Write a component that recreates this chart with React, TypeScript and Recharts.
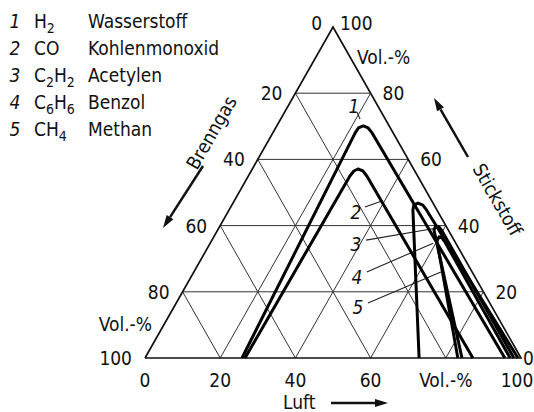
import React from 'react';
import { ScatterChart, Scatter, XAxis, YAxis } from 'recharts';

const FONT = "'Liberation Sans Narrow', 'DejaVu Sans Condensed', 'Arial Narrow', 'Roboto', sans-serif";

// ternary axes, all in Vol.-%: Luft (bottom), Stickstoff (right), Brenngas = 100 - Luft - Stickstoff
const gridSteps = [20, 40, 60, 80];
const scaleTicks = [0, 20, 40, 60, 80, 100];
const luftLabels = ['0', '20', '40', '60', 'Vol.-%', '100'];
const brenngasLabels = ['0', '20', '40', '60', '80', '100'];
const stickstoffLabels = ['0', '20', '40', '60', '80', '100'];

// explosion ranges: Luft / Stickstoff along each curve
const h2Luft = [25.8, 21.9, 22.0, 23.0, 24.6, 26.4, 95.7];
const h2N2 = [0, 68.0, 69.5, 70.1, 69.5, 68.0, 0];
const coLuft = [26.6, 27.0, 27.3, 28.1, 29.7, 31.5, 87.2];
const coN2 = [0, 55.0, 56.5, 57.1, 56.5, 55.0, 0];
const c2h2Luft = [72.9, 48.9, 48.4, 49.2, 50.8, 52.2, 99.2];
const c2h2N2 = [0, 44.7, 46.2, 46.8, 46.2, 45.0, 0];
const c6h6Luft = [84.3, 57.5, 57.4, 58.4, 59.8, 98.1];
const c6h6N2 = [0, 38.7, 39.9, 39.6, 38.4, 0];
const ch4Luft = [83.2, 60.0, 59.9, 60.8, 62.3, 97.1];
const ch4N2 = [0, 35.3, 36.6, 36.3, 35.0, 0];

// leader lines from the curve numbers: [start, end] as Luft / Stickstoff
const leaderLuft = [[19.2, 21.1], [35.7, 39.3], [41.0, 58.0], [46.0, 59.3], [51.0, 65.7]];
const leaderN2 = [[74.3, 72.2], [45.6, 47.4], [35.6, 39.3], [26.0, 34.7], [16.6, 26.0]];

const legendNums = ['1', '2', '3', '4', '5'];
const legendFormulas = [['H', '2'], ['CO'], ['C', '2', 'H', '2'], ['C', '6', 'H', '6'], ['CH', '4']];
const legendNames = ['Wasserstoff', 'Kohlenmonoxid', 'Acetylen', 'Benzol', 'Methan'];

const toXY = (luft: number, n2: number) => ({ x: luft + n2 / 2, y: n2 });
const path = (l: number[], n: number[]) => l.map((v, i) => toXY(v, n[i]));

const NoDot = () => <g />;

// tick text, kept inside the 534px page
const tickShape = (anchor: string, dx: number, dy: number, maxX = 9999) => (props: any) => {
    const { cx, cy, payload } = props;
    return (
        <text x={Math.min(cx + dx, maxX)} y={cy + dy} textAnchor={anchor} fontFamily={FONT} fontSize={19} fill="#111">
            {payload.label}
        </text>
    );
};

const Arrow = ({ x1, y1, x2, y2 }: { x1: number; y1: number; x2: number; y2: number }) => {
    const len = Math.hypot(x2 - x1, y2 - y1);
    const ux = (x2 - x1) / len;
    const uy = (y2 - y1) / len;
    const bx = x2 - ux * 13;
    const by = y2 - uy * 13;
    const head = `${x2},${y2} ${bx - uy * 4},${by + ux * 4} ${bx + uy * 4},${by - ux * 4}`;
    return (
        <g>
            <line x1={x1} y1={y1} x2={bx} y2={by} stroke="#111" strokeWidth={2.5} />
            <polygon points={head} fill="#111" />
        </g>
    );
};

export default function App() {
    const gridLines: { x: number; y: number }[][] = [];
    gridSteps.forEach((k) => {
        gridLines.push([toXY(0, k), toXY(100 - k, k)]);
        gridLines.push([toXY(k, 0), toXY(k, 100 - k)]);
        gridLines.push([toXY(100 - k, 0), toXY(0, 100 - k)]);
    });
    const frame = [toXY(0, 0), toXY(100, 0), toXY(0, 100), toXY(0, 0)];
    const curves = [
        path(h2Luft, h2N2),
        path(coLuft, coN2),
        path(c2h2Luft, c2h2N2),
        path(c6h6Luft, c6h6N2),
        path(ch4Luft, ch4N2),
    ];
    const leaders = leaderLuft.map((l, i) => path(l, leaderN2[i]));

    const bottomTicks = scaleTicks.map((t, i) => ({ ...toXY(t, 0), label: luftLabels[i] }));
    const leftTicks = scaleTicks.slice(1).map((t, i) => ({ ...toXY(0, 100 - t), label: brenngasLabels[i + 1] }));
    const rightTicks = scaleTicks.slice(0, 5).map((t, i) => ({ ...toXY(100 - t, t), label: stickstoffLabels[i] }));
    const topLeft = [{ ...toXY(0, 100), label: brenngasLabels[0] }];
    const topRight = [{ ...toXY(0, 100), label: stickstoffLabels[5] }];

    const txt = { fontFamily: FONT, fontSize: 19, fill: '#111' };
    const ital = { ...txt, fontStyle: 'italic' as const };

    return (
        <div style={{ position: 'absolute', left: 0, top: 0, width: 534, height: 412, background: '#fff' }}>
            <ScatterChart width={534} height={412} margin={{ top: 27, right: 13, bottom: 54, left: 145 }}>
                <XAxis type="number" dataKey="x" domain={[0, 100]} hide />
                <YAxis type="number" dataKey="y" domain={[0, 100]} hide />
                {gridLines.map((g, i) => (
                    <Scatter key={`grid-${i}`} data={g} line={{ stroke: '#333', strokeWidth: 1 }} shape={NoDot} isAnimationActive={false} />
                ))}
                <Scatter data={frame} line={{ stroke: '#111', strokeWidth: 1.7, strokeLinejoin: 'miter' }} shape={NoDot} isAnimationActive={false} />
                {leaders.map((g, i) => (
                    <Scatter key={`leader-${i}`} data={g} line={{ stroke: '#222', strokeWidth: 1.1 }} shape={NoDot} isAnimationActive={false} />
                ))}
                {curves.map((c, i) => (
                    <Scatter
                        key={`curve-${i}`}
                        data={c}
                        line={{ stroke: '#000', strokeWidth: 3, strokeLinejoin: 'round' }}
                        shape={NoDot}
                        isAnimationActive={false}
                    />
                ))}
                <Scatter data={bottomTicks} shape={tickShape('middle', 0, 29, 517)} isAnimationActive={false} />
                <Scatter data={leftTicks} shape={tickShape('end', -13, 7)} isAnimationActive={false} />
                <Scatter data={rightTicks} shape={tickShape('start', 12, 7, 523)} isAnimationActive={false} />
                <Scatter data={topLeft} shape={tickShape('end', -11, 3)} isAnimationActive={false} />
                <Scatter data={topRight} shape={tickShape('start', 7, 3)} isAnimationActive={false} />
            </ScatterChart>
            <svg width={534} height={412} style={{ position: 'absolute', left: 0, top: 0, pointerEvents: 'none' }}>
                {legendNames.map((name, i) => {
                    const y = 28 + i * 27;
                    const f = legendFormulas[i];
                    return (
                        <g key={name}>
                            <text x={15} y={y} textAnchor="middle" {...ital}>{legendNums[i]}</text>
                            <text x={34} y={y} {...txt}>
                                {f.map((s, j) =>
                                    j % 2 === 0 ? (
                                        <tspan key={j} dy={j === 0 ? 0 : -5} fontSize={19}>{s}</tspan>
                                    ) : (
                                        <tspan key={j} dy={5} fontSize={14}>{s}</tspan>
                                    )
                                )}
                            </text>
                            <text x={88} y={y} {...txt}>{name}</text>
                        </g>
                    );
                })}
                <text x={354} y={113} textAnchor="middle" {...ital}>1</text>
                <text x={356} y={219} textAnchor="middle" {...ital}>2</text>
                <text x={356} y={251} textAnchor="middle" {...ital}>3</text>
                <text x={357} y={284} textAnchor="middle" {...ital}>4</text>
                <text x={358} y={314} textAnchor="middle" {...ital}>5</text>

                <text x={357} y={64} {...txt}>Vol.-%</text>
                <text x={152} y={331} textAnchor="end" {...txt}>Vol.-%</text>

                <text transform="translate(212,133) rotate(-60)" textAnchor="middle" dy={6} {...txt}>Brenngas</text>
                <Arrow x1={203} y1={166} x2={163} y2={228} />
                <text transform="translate(497,200) rotate(60)" textAnchor="middle" dy={6} {...txt}>Stickstoff</text>
                <Arrow x1={468} y1={157} x2={434} y2={98} />
                <text x={283} y={409} {...txt}>Luft</text>
                <Arrow x1={331} y1={403} x2={388} y2={403} />
            </svg>
        </div>
    );
}
